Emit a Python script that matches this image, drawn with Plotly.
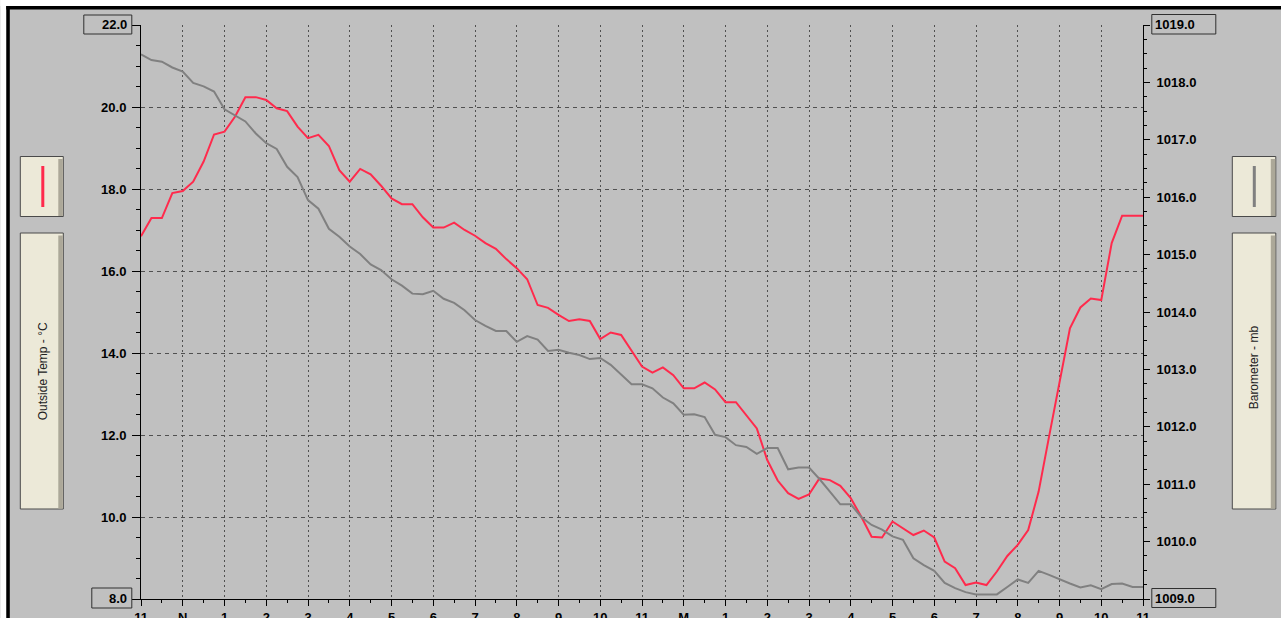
import plotly.graph_objects as go

# ---- data (15-minute samples, 11 AM -> 11 AM next day) ----
hour_labels = ["11", "N", "1", "2", "3", "4", "5", "6", "7", "8", "9", "10", "11",
               "M", "1", "2", "3", "4", "5", "6", "7", "8", "9", "10", "11"]

outside_temp = [16.85, 17.29, 17.29, 17.90, 17.95, 18.18, 18.67, 19.33, 19.40, 19.76,
                20.24, 20.24, 20.17, 19.97, 19.90, 19.52, 19.24, 19.32, 19.05, 18.46,
                18.18, 18.49, 18.36, 18.08, 17.77, 17.63, 17.63, 17.31, 17.06, 17.06,
                17.18, 17.00, 16.86, 16.68, 16.54, 16.29, 16.07, 15.80, 15.17, 15.10,
                14.93, 14.78, 14.82, 14.78, 14.34, 14.50, 14.44, 14.07, 13.67, 13.52,
                13.65, 13.46, 13.14, 13.14, 13.28, 13.11, 12.80, 12.80, 12.49, 12.16,
                11.39, 10.89, 10.58, 10.44, 10.55, 10.94, 10.90, 10.76, 10.46, 10.01,
                9.52, 9.50, 9.89, 9.72, 9.56, 9.67, 9.50, 8.91, 8.75, 8.34,
                8.40, 8.34, 8.67, 9.05, 9.32, 9.68, 10.62, 11.96, 13.30, 14.60,
                15.11, 15.33, 15.29, 16.68, 17.35, 17.35, 17.35]

barometer = [1018.49, 1018.39, 1018.36, 1018.26, 1018.19, 1017.99, 1017.93, 1017.84, 1017.53, 1017.42,
             1017.32, 1017.11, 1016.94, 1016.84, 1016.53, 1016.35, 1015.95, 1015.80, 1015.45, 1015.31,
             1015.14, 1015.01, 1014.83, 1014.73, 1014.57, 1014.46, 1014.32, 1014.31, 1014.37, 1014.23,
             1014.16, 1014.03, 1013.86, 1013.76, 1013.67, 1013.67, 1013.48, 1013.58, 1013.52, 1013.32,
             1013.34, 1013.29, 1013.25, 1013.18, 1013.20, 1013.08, 1012.91, 1012.74, 1012.74, 1012.67,
             1012.51, 1012.41, 1012.21, 1012.22, 1012.17, 1011.86, 1011.82, 1011.68, 1011.65, 1011.53,
             1011.63, 1011.63, 1011.26, 1011.29, 1011.29, 1011.09, 1010.87, 1010.65, 1010.65, 1010.43,
             1010.29, 1010.21, 1010.09, 1010.03, 1009.71, 1009.59, 1009.49, 1009.28, 1009.19, 1009.12,
             1009.08, 1009.08, 1009.08, 1009.21, 1009.34, 1009.28, 1009.49, 1009.42, 1009.34, 1009.27,
             1009.20, 1009.24, 1009.17, 1009.26, 1009.27, 1009.21, 1009.21]

temp_ticks = [8, 10, 12, 14, 16, 18, 20, 22]
baro_ticks = [1009, 1010, 1011, 1012, 1013, 1014, 1015, 1016, 1017, 1018, 1019]

hours = [i * 0.25 for i in range(len(outside_temp))]

# ---- geometry ----
W, H = 1281, 618
L, R, T, B = 140.7, 1142.7, 25.0, 599.0
PW, PH = R - L, B - T


def px(x):
    return (x - L) / PW


def py(y):
    return 1 - (y - T) / PH


def rect(x0, y0, x1, y1, fill, line=None, lw=0, layer="above"):
    return dict(type="rect", xref="paper", yref="paper",
                x0=px(x0), x1=px(x1), y0=py(y1), y1=py(y0),
                fillcolor=fill, line=dict(color=line or fill, width=lw), layer=layer)


def vline(x, y0, y1, color, width):
    return dict(type="line", xref="paper", yref="paper",
                x0=px(x), x1=px(x), y0=py(y0), y1=py(y1),
                line=dict(color=color, width=width), layer="above")


TICKFONT = dict(family="Liberation Sans", size=13, color="#000000", weight="bold")

fig = go.Figure()
fig.add_trace(go.Scatter(x=hours, y=barometer, mode="lines", yaxis="y2",
                         line=dict(color="#808080", width=2), showlegend=False,
                         hoverinfo="skip"))
fig.add_trace(go.Scatter(x=hours, y=outside_temp, mode="lines", yaxis="y",
                         line=dict(color="#ff2a4c", width=2), showlegend=False,
                         hoverinfo="skip"))

shapes = []
# white margin + black frame
shapes.append(rect(0, 0, 6, H, "white", layer="below"))
shapes.append(rect(0, 0, W, 6, "white", layer="below"))
shapes.append(rect(6, 6, 9.5, H, "black", layer="below"))
shapes.append(rect(6, 6, W, 9.5, "black", layer="below"))

BOX = "#ece9d8"
SHADOW = "#aca899"
BORDER = "#4a4a4a"
for (bx0, bx1) in [(20, 63), (1232, 1275.5)]:
    for (by0, by1) in [(156.5, 216.5), (233, 509)]:
        shapes.append(rect(bx0, by0, bx1, by1, BOX, BORDER, 1))
        shapes.append(rect(bx1 - 5, by0 + 2.5, bx1 - 0.5, by1 - 0.5, SHADOW))
shapes.append(vline(42.5, 166, 207, "#ff2a4c", 3))
shapes.append(vline(1254, 166, 207, "#808080", 3))

# boxed end labels
for (bx0, by0, bx1, by1) in [(83.5, 15, 131.5, 34), (91.5, 588, 131.5, 608),
                             (1151.5, 14.5, 1215.5, 34), (1151.5, 588.5, 1215.5, 607.5)]:
    shapes.append(dict(type="rect", xref="paper", yref="paper",
                       x0=px(bx0), x1=px(bx1), y0=py(by1), y1=py(by0),
                       fillcolor="rgba(0,0,0,0)", line=dict(color="#303030", width=1),
                       layer="above"))

annotations = [
    dict(text="Outside Temp - °C", x=px(43), y=py(371), xref="paper", yref="paper",
         textangle=-90, showarrow=False, xanchor="center", yanchor="middle",
         font=dict(family="Liberation Sans", size=12, color="#222222")),
    dict(text="Barometer - mb", x=px(1254), y=py(367), xref="paper", yref="paper",
         textangle=-90, showarrow=False, xanchor="center", yanchor="middle",
         font=dict(family="Liberation Sans", size=12, color="#222222")),
    dict(text="22.0", x=px(129), y=py(24.5), xref="paper", yref="paper",
         showarrow=False, xanchor="right", yanchor="middle", font=TICKFONT),
    dict(text="8.0", x=px(129), y=py(598), xref="paper", yref="paper",
         showarrow=False, xanchor="right", yanchor="middle", font=TICKFONT),
    dict(text="1019.0", x=px(1153), y=py(24.5), xref="paper", yref="paper",
         showarrow=False, xanchor="left", yanchor="middle", font=TICKFONT),
    dict(text="1009.0", x=px(1153), y=py(598), xref="paper", yref="paper",
         showarrow=False, xanchor="left", yanchor="middle", font=TICKFONT),
]

fig.update_layout(
    width=W, height=H, autosize=False,
    margin=dict(l=L, r=W - R, t=T, b=H - B, pad=0, autoexpand=False),
    paper_bgcolor="#c0c0c0", plot_bgcolor="#c0c0c0",
    showlegend=False,
    shapes=shapes, annotations=annotations,
    xaxis=dict(range=[0, 24], tickvals=list(range(25)), ticktext=hour_labels,
               tickmode="array", ticks="outside", ticklen=6, tickcolor="black",
               showline=True, linecolor="black", linewidth=1, automargin=False,
               showgrid=True, gridcolor="#505050", gridwidth=1, griddash="2px,3px",
               zeroline=False, tickfont=TICKFONT, ticklabelstandoff=0,
               minor=dict(dtick=0.5, ticks="outside", ticklen=3, tickcolor="black",
                          showgrid=False)),
    yaxis=dict(range=[8, 22], tickmode="array", tickvals=temp_ticks,
               ticktext=["" if v in (8, 22) else f"{v:.1f}" for v in temp_ticks],
               ticks="outside", ticklen=8, tickcolor="black", automargin=False,
               showline=True, linecolor="black", linewidth=1,
               showgrid=True, gridcolor="#505050", gridwidth=1, griddash="4px,4px",
               zeroline=False, tickfont=TICKFONT, ticklabelstandoff=3,
               minor=dict(dtick=0.5, ticks="outside", ticklen=4, tickcolor="black",
                          showgrid=False)),
    yaxis2=dict(range=[1009, 1019], overlaying="y", side="right", tickmode="array",
                tickvals=baro_ticks, automargin=False,
                ticktext=["" if v in (1009, 1019) else f"{v:.1f}" for v in baro_ticks],
                ticks="outside", ticklen=6, tickcolor="black",
                showline=True, linecolor="black", linewidth=1,
                showgrid=False, zeroline=False, tickfont=TICKFONT, ticklabelstandoff=4,
                minor=dict(dtick=0.25, ticks="outside", ticklen=3, tickcolor="black",
                           showgrid=False)),
)

fig.write_html(
    "out.html",
    config={"displayModeBar": False, "responsive": False},
    default_width="1281px", default_height="618px",
    post_script="document.body.style.margin='0';document.body.style.overflow='hidden';"
                "document.documentElement.style.overflow='hidden';",
)
